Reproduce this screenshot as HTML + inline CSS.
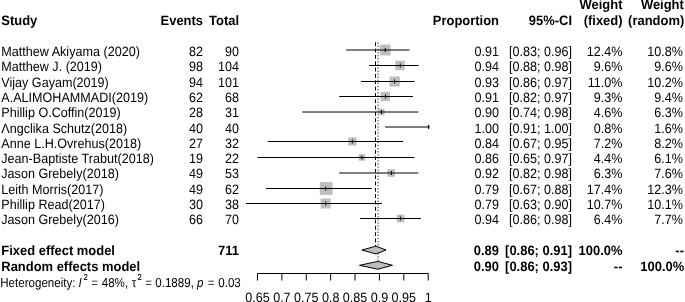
<!DOCTYPE html><html><head><meta charset="utf-8"><style>html,body{margin:0;padding:0;background:#fff;width:685px;height:302px;overflow:hidden}svg{display:block;will-change:transform}text{font-family:"Liberation Sans",sans-serif;text-rendering:geometricPrecision;font-size:13.60px;fill:#000}.b{font-weight:bold}</style></head><body>
<svg width="685" height="302" viewBox="0 0 685 302">
<text class="b" transform="translate(1.30 24.50) scale(0.952 1)">Study</text>
<text class="b" text-anchor="end" transform="translate(203.00 24.50) scale(0.952 1)">Events</text>
<text class="b" text-anchor="end" transform="translate(239.00 24.50) scale(0.952 1)">Total</text>
<text class="b" text-anchor="end" transform="translate(499.00 24.50) scale(0.952 1)">Proportion</text>
<text class="b" text-anchor="end" transform="translate(572.00 24.50) scale(0.952 1)">95%-CI</text>
<text class="b" text-anchor="end" transform="translate(622.50 9.40) scale(0.952 1)">Weight</text>
<text class="b" text-anchor="end" transform="translate(622.50 24.50) scale(0.952 1)">(fixed)</text>
<text class="b" text-anchor="end" transform="translate(683.80 9.40) scale(0.952 1)">Weight</text>
<text class="b" text-anchor="end" transform="translate(684.20 24.50) scale(0.952 1)">(random)</text>
<line x1="375.50" y1="42.3" x2="375.50" y2="246.5" stroke="#000" stroke-width="1" stroke-dasharray="3.8 2.53"/>
<line x1="378.10" y1="42.5" x2="378.10" y2="261.5" stroke="#333" stroke-width="1" stroke-dasharray="1.4 1.7"/>
<text transform="translate(1.30 56.10) scale(0.926 1)">Matthew Akiyama (2020)</text>
<text text-anchor="end" transform="translate(203.00 56.10) scale(0.926 1)">82</text>
<text text-anchor="end" transform="translate(239.00 56.10) scale(0.926 1)">90</text>
<text text-anchor="end" transform="translate(499.00 56.10) scale(0.926 1)">0.91</text>
<text text-anchor="end" transform="translate(572.00 56.10) scale(0.926 1)">[0.83; 0.96]</text>
<text text-anchor="end" transform="translate(622.50 56.10) scale(0.926 1)">12.4%</text>
<text text-anchor="end" transform="translate(683.00 56.10) scale(0.926 1)">10.8%</text>
<rect x="379.80" y="44.60" width="10.80" height="10.80" fill="#bebebe"/>
<line x1="346.20" y1="50.00" x2="409.60" y2="50.00" stroke="#000" stroke-width="1"/>
<line x1="385.30" y1="48.00" x2="385.30" y2="52.00" stroke="#000" stroke-width="1"/>
<text transform="translate(1.30 71.38) scale(0.926 1)">Matthew J. (2019)</text>
<text text-anchor="end" transform="translate(203.00 71.38) scale(0.926 1)">98</text>
<text text-anchor="end" transform="translate(239.00 71.38) scale(0.926 1)">104</text>
<text text-anchor="end" transform="translate(499.00 71.38) scale(0.926 1)">0.94</text>
<text text-anchor="end" transform="translate(572.00 71.38) scale(0.926 1)">[0.88; 0.98]</text>
<text text-anchor="end" transform="translate(622.50 71.38) scale(0.926 1)">9.6%</text>
<text text-anchor="end" transform="translate(683.00 71.38) scale(0.926 1)">9.6%</text>
<rect x="395.25" y="60.75" width="9.50" height="9.50" fill="#bebebe"/>
<line x1="369.20" y1="65.50" x2="418.60" y2="65.50" stroke="#000" stroke-width="1"/>
<line x1="400.30" y1="63.50" x2="400.30" y2="67.50" stroke="#000" stroke-width="1"/>
<text transform="translate(1.30 86.66) scale(0.926 1)">Vijay Gayam(2019)</text>
<text text-anchor="end" transform="translate(203.00 86.66) scale(0.926 1)">94</text>
<text text-anchor="end" transform="translate(239.00 86.66) scale(0.926 1)">101</text>
<text text-anchor="end" transform="translate(499.00 86.66) scale(0.926 1)">0.93</text>
<text text-anchor="end" transform="translate(572.00 86.66) scale(0.926 1)">[0.86; 0.97]</text>
<text text-anchor="end" transform="translate(622.50 86.66) scale(0.926 1)">11.0%</text>
<text text-anchor="end" transform="translate(683.00 86.66) scale(0.926 1)">10.2%</text>
<rect x="389.61" y="76.41" width="10.17" height="10.17" fill="#bebebe"/>
<line x1="360.90" y1="81.50" x2="414.60" y2="81.50" stroke="#000" stroke-width="1"/>
<line x1="394.60" y1="79.50" x2="394.60" y2="83.50" stroke="#000" stroke-width="1"/>
<text transform="translate(1.30 101.94) scale(0.926 1)">A.ALIMOHAMMADI(2019)</text>
<text text-anchor="end" transform="translate(203.00 101.94) scale(0.926 1)">62</text>
<text text-anchor="end" transform="translate(239.00 101.94) scale(0.926 1)">68</text>
<text text-anchor="end" transform="translate(499.00 101.94) scale(0.926 1)">0.91</text>
<text text-anchor="end" transform="translate(572.00 101.94) scale(0.926 1)">[0.82; 0.97]</text>
<text text-anchor="end" transform="translate(622.50 101.94) scale(0.926 1)">9.3%</text>
<text text-anchor="end" transform="translate(683.00 101.94) scale(0.926 1)">9.4%</text>
<rect x="380.62" y="91.82" width="9.35" height="9.35" fill="#bebebe"/>
<line x1="339.20" y1="96.50" x2="413.00" y2="96.50" stroke="#000" stroke-width="1"/>
<line x1="385.50" y1="94.50" x2="385.50" y2="98.50" stroke="#000" stroke-width="1"/>
<text transform="translate(1.30 117.22) scale(0.926 1)">Phillip O.Coffin(2019)</text>
<text text-anchor="end" transform="translate(203.00 117.22) scale(0.926 1)">28</text>
<text text-anchor="end" transform="translate(239.00 117.22) scale(0.926 1)">31</text>
<text text-anchor="end" transform="translate(499.00 117.22) scale(0.926 1)">0.90</text>
<text text-anchor="end" transform="translate(572.00 117.22) scale(0.926 1)">[0.74; 0.98]</text>
<text text-anchor="end" transform="translate(622.50 117.22) scale(0.926 1)">4.6%</text>
<text text-anchor="end" transform="translate(683.00 117.22) scale(0.926 1)">6.3%</text>
<rect x="378.01" y="108.71" width="6.58" height="6.58" fill="#bebebe"/>
<line x1="302.30" y1="112.00" x2="418.30" y2="112.00" stroke="#000" stroke-width="1"/>
<line x1="381.50" y1="110.00" x2="381.50" y2="114.00" stroke="#000" stroke-width="1"/>
<text transform="translate(1.30 132.50) scale(0.926 1)">Λngclika Schutz(2018)</text>
<text text-anchor="end" transform="translate(203.00 132.50) scale(0.926 1)">40</text>
<text text-anchor="end" transform="translate(239.00 132.50) scale(0.926 1)">40</text>
<text text-anchor="end" transform="translate(499.00 132.50) scale(0.926 1)">1.00</text>
<text text-anchor="end" transform="translate(572.00 132.50) scale(0.926 1)">[0.91; 1.00]</text>
<text text-anchor="end" transform="translate(622.50 132.50) scale(0.926 1)">0.8%</text>
<text text-anchor="end" transform="translate(683.00 132.50) scale(0.926 1)">1.6%</text>
<rect x="427.23" y="125.63" width="2.74" height="2.74" fill="#bebebe"/>
<line x1="385.10" y1="127.00" x2="429.30" y2="127.00" stroke="#000" stroke-width="1"/>
<line x1="428.60" y1="125.00" x2="428.60" y2="129.00" stroke="#000" stroke-width="1"/>
<text transform="translate(1.30 147.78) scale(0.926 1)">Anne L.H.Ovrehus(2018)</text>
<text text-anchor="end" transform="translate(203.00 147.78) scale(0.926 1)">27</text>
<text text-anchor="end" transform="translate(239.00 147.78) scale(0.926 1)">32</text>
<text text-anchor="end" transform="translate(499.00 147.78) scale(0.926 1)">0.84</text>
<text text-anchor="end" transform="translate(572.00 147.78) scale(0.926 1)">[0.67; 0.95]</text>
<text text-anchor="end" transform="translate(622.50 147.78) scale(0.926 1)">7.2%</text>
<text text-anchor="end" transform="translate(683.00 147.78) scale(0.926 1)">8.2%</text>
<rect x="348.29" y="137.39" width="8.23" height="8.23" fill="#bebebe"/>
<line x1="267.90" y1="141.50" x2="403.10" y2="141.50" stroke="#000" stroke-width="1"/>
<line x1="352.30" y1="139.50" x2="352.30" y2="143.50" stroke="#000" stroke-width="1"/>
<text transform="translate(1.30 163.06) scale(0.926 1)">Jean-Baptiste Trabut(2018)</text>
<text text-anchor="end" transform="translate(203.00 163.06) scale(0.926 1)">19</text>
<text text-anchor="end" transform="translate(239.00 163.06) scale(0.926 1)">22</text>
<text text-anchor="end" transform="translate(499.00 163.06) scale(0.926 1)">0.86</text>
<text text-anchor="end" transform="translate(572.00 163.06) scale(0.926 1)">[0.65; 0.97]</text>
<text text-anchor="end" transform="translate(622.50 163.06) scale(0.926 1)">4.4%</text>
<text text-anchor="end" transform="translate(683.00 163.06) scale(0.926 1)">6.1%</text>
<rect x="358.68" y="154.28" width="6.43" height="6.43" fill="#bebebe"/>
<line x1="257.40" y1="157.50" x2="414.50" y2="157.50" stroke="#000" stroke-width="1"/>
<line x1="361.90" y1="155.50" x2="361.90" y2="159.50" stroke="#000" stroke-width="1"/>
<text transform="translate(1.30 178.34) scale(0.926 1)">Jason Grebely(2018)</text>
<text text-anchor="end" transform="translate(203.00 178.34) scale(0.926 1)">49</text>
<text text-anchor="end" transform="translate(239.00 178.34) scale(0.926 1)">53</text>
<text text-anchor="end" transform="translate(499.00 178.34) scale(0.926 1)">0.92</text>
<text text-anchor="end" transform="translate(572.00 178.34) scale(0.926 1)">[0.82; 0.98]</text>
<text text-anchor="end" transform="translate(622.50 178.34) scale(0.926 1)">6.3%</text>
<text text-anchor="end" transform="translate(683.00 178.34) scale(0.926 1)">7.6%</text>
<rect x="387.25" y="169.15" width="7.70" height="7.70" fill="#bebebe"/>
<line x1="339.20" y1="173.00" x2="418.30" y2="173.00" stroke="#000" stroke-width="1"/>
<line x1="391.50" y1="171.00" x2="391.50" y2="175.00" stroke="#000" stroke-width="1"/>
<text transform="translate(1.30 193.62) scale(0.926 1)">Leith Morris(2017)</text>
<text text-anchor="end" transform="translate(203.00 193.62) scale(0.926 1)">49</text>
<text text-anchor="end" transform="translate(239.00 193.62) scale(0.926 1)">62</text>
<text text-anchor="end" transform="translate(499.00 193.62) scale(0.926 1)">0.79</text>
<text text-anchor="end" transform="translate(572.00 193.62) scale(0.926 1)">[0.67; 0.88]</text>
<text text-anchor="end" transform="translate(622.50 193.62) scale(0.926 1)">17.4%</text>
<text text-anchor="end" transform="translate(683.00 193.62) scale(0.926 1)">12.3%</text>
<rect x="319.80" y="182.10" width="12.79" height="12.79" fill="#bebebe"/>
<line x1="266.00" y1="188.50" x2="371.80" y2="188.50" stroke="#000" stroke-width="1"/>
<line x1="325.70" y1="186.50" x2="325.70" y2="190.50" stroke="#000" stroke-width="1"/>
<text transform="translate(1.30 208.90) scale(0.926 1)">Phillip Read(2017)</text>
<text text-anchor="end" transform="translate(203.00 208.90) scale(0.926 1)">30</text>
<text text-anchor="end" transform="translate(239.00 208.90) scale(0.926 1)">38</text>
<text text-anchor="end" transform="translate(499.00 208.90) scale(0.926 1)">0.79</text>
<text text-anchor="end" transform="translate(572.00 208.90) scale(0.926 1)">[0.63; 0.90]</text>
<text text-anchor="end" transform="translate(622.50 208.90) scale(0.926 1)">10.7%</text>
<text text-anchor="end" transform="translate(683.00 208.90) scale(0.926 1)">10.1%</text>
<rect x="320.68" y="198.48" width="10.03" height="10.03" fill="#bebebe"/>
<line x1="245.90" y1="203.50" x2="382.00" y2="203.50" stroke="#000" stroke-width="1"/>
<line x1="325.70" y1="201.50" x2="325.70" y2="205.50" stroke="#000" stroke-width="1"/>
<text transform="translate(1.30 224.18) scale(0.926 1)">Jason Grebely(2016)</text>
<text text-anchor="end" transform="translate(203.00 224.18) scale(0.926 1)">66</text>
<text text-anchor="end" transform="translate(239.00 224.18) scale(0.926 1)">70</text>
<text text-anchor="end" transform="translate(499.00 224.18) scale(0.926 1)">0.94</text>
<text text-anchor="end" transform="translate(572.00 224.18) scale(0.926 1)">[0.86; 0.98]</text>
<text text-anchor="end" transform="translate(622.50 224.18) scale(0.926 1)">6.4%</text>
<text text-anchor="end" transform="translate(683.00 224.18) scale(0.926 1)">7.7%</text>
<rect x="396.72" y="214.62" width="7.76" height="7.76" fill="#bebebe"/>
<line x1="360.20" y1="218.50" x2="420.90" y2="218.50" stroke="#000" stroke-width="1"/>
<line x1="400.40" y1="216.50" x2="400.40" y2="220.50" stroke="#000" stroke-width="1"/>
<text class="b" transform="translate(1.30 255.10) scale(0.952 1)">Fixed effect model</text>
<text class="b" text-anchor="end" transform="translate(239.00 255.10) scale(0.952 1)">711</text>
<text class="b" text-anchor="end" transform="translate(499.00 255.10) scale(0.952 1)">0.89</text>
<text class="b" text-anchor="end" transform="translate(572.00 255.10) scale(0.952 1)">[0.86; 0.91]</text>
<text class="b" text-anchor="end" transform="translate(622.50 255.10) scale(0.952 1)">100.0%</text>
<text class="b" text-anchor="end" transform="translate(684.00 255.10) scale(0.952 1)">--</text>
<polygon points="362.00,250.05 375.90,246.15 386.00,250.05 375.90,253.95" fill="#bebebe" stroke="#000" stroke-width="1" stroke-linejoin="round"/>
<text class="b" transform="translate(1.30 271.40) scale(0.952 1)">Random effects model</text>
<text class="b" text-anchor="end" transform="translate(499.00 271.40) scale(0.952 1)">0.90</text>
<text class="b" text-anchor="end" transform="translate(572.00 271.40) scale(0.952 1)">[0.86; 0.93]</text>
<text class="b" text-anchor="end" transform="translate(622.50 271.40) scale(0.952 1)">--</text>
<text class="b" text-anchor="end" transform="translate(684.20 271.40) scale(0.952 1)">100.0%</text>
<polygon points="359.50,265.30 377.80,261.40 392.40,265.30 377.80,269.20" fill="#bebebe" stroke="#000" stroke-width="1" stroke-linejoin="round"/>
<text transform="translate(0.25 286.50) scale(0.890 1)" style="font-size:13.00px">Heterogeneity:</text>
<text transform="translate(78.44 286.50) scale(0.890 1)" style="font-size:13.00px" font-style="italic">I</text>
<text transform="translate(83.52 279.80) scale(0.890 1)" style="font-size:8.60px" stroke="#000" stroke-width="0.15">2</text>
<text transform="translate(91.24 286.50) scale(0.890 1)" style="font-size:13.00px">=</text>
<text transform="translate(101.73 286.50) scale(0.890 1)" style="font-size:13.00px">48%,</text>
<text transform="translate(131.64 286.50) scale(0.890 1)" style="font-size:13.00px">τ</text>
<text transform="translate(137.42 279.80) scale(0.890 1)" style="font-size:8.60px" stroke="#000" stroke-width="0.15">2</text>
<text transform="translate(145.14 286.50) scale(0.890 1)" style="font-size:13.00px">=</text>
<text transform="translate(155.25 286.50) scale(0.890 1)" style="font-size:13.00px">0.1889,</text>
<text transform="translate(197.09 286.50) scale(0.890 1)" style="font-size:13.00px" font-style="italic">p</text>
<text transform="translate(207.84 286.50) scale(0.890 1)" style="font-size:13.00px">=</text>
<text transform="translate(218.25 286.50) scale(0.890 1)" style="font-size:13.00px">0.03</text>
<line x1="257.50" y1="273.50" x2="428.19" y2="273.50" stroke="#000" stroke-width="1"/>
<line x1="257.50" y1="273.50" x2="257.50" y2="280.50" stroke="#000" stroke-width="1"/>
<text text-anchor="middle" transform="translate(257.50 302.00) scale(0.926 1)">0.65</text>
<line x1="281.88" y1="273.50" x2="281.88" y2="280.50" stroke="#000" stroke-width="1"/>
<text text-anchor="middle" transform="translate(281.88 302.00) scale(0.926 1)">0.7</text>
<line x1="306.27" y1="273.50" x2="306.27" y2="280.50" stroke="#000" stroke-width="1"/>
<text text-anchor="middle" transform="translate(306.27 302.00) scale(0.926 1)">0.75</text>
<line x1="330.66" y1="273.50" x2="330.66" y2="280.50" stroke="#000" stroke-width="1"/>
<text text-anchor="middle" transform="translate(330.66 302.00) scale(0.926 1)">0.8</text>
<line x1="355.04" y1="273.50" x2="355.04" y2="280.50" stroke="#000" stroke-width="1"/>
<text text-anchor="middle" transform="translate(355.04 302.00) scale(0.926 1)">0.85</text>
<line x1="379.43" y1="273.50" x2="379.43" y2="280.50" stroke="#000" stroke-width="1"/>
<text text-anchor="middle" transform="translate(379.43 302.00) scale(0.926 1)">0.9</text>
<line x1="403.81" y1="273.50" x2="403.81" y2="280.50" stroke="#000" stroke-width="1"/>
<text text-anchor="middle" transform="translate(403.81 302.00) scale(0.926 1)">0.95</text>
<line x1="428.19" y1="273.50" x2="428.19" y2="280.50" stroke="#000" stroke-width="1"/>
<text text-anchor="middle" transform="translate(428.19 302.00) scale(0.926 1)">1</text>
</svg></body></html>
